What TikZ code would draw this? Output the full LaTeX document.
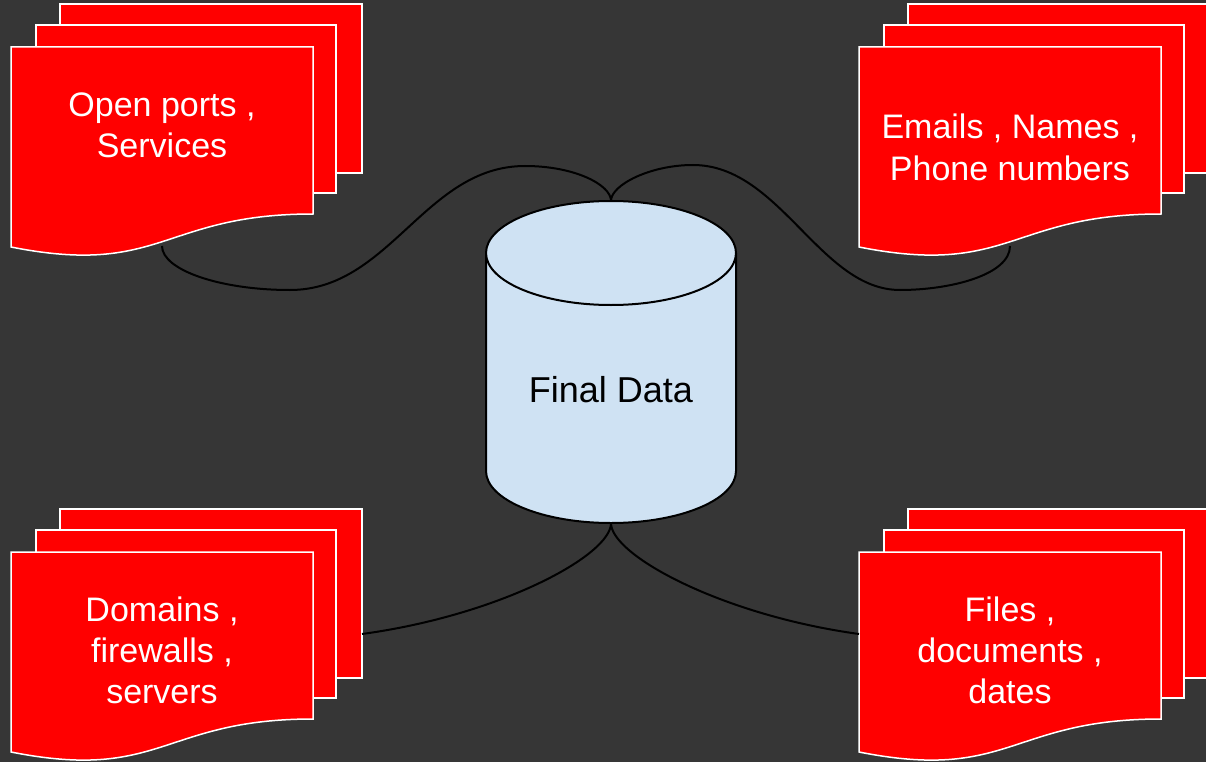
\documentclass[tikz,border=0pt]{standalone}
\usepackage{fontspec}
\setmainfont{Liberation Sans}
\definecolor{bgcol}{HTML}{363636}
\definecolor{dbfill}{HTML}{CFE2F3}
\newcommand\multidocshape[2]{%
  \begin{scope}[shift={(#1,#2)}]
    \path[sheet] (60,4) rectangle (362,173);
    \path[sheet] (36,25) rectangle (336,193);
    \path[sheet] (11,47) -- (313,47) -- (313,214) .. controls (162,214) and (162,277) .. (11,247) -- cycle;
  \end{scope}}
\begin{document}
\begin{tikzpicture}[x=1pt,y=-1pt,
  sheet/.style={fill=red, draw=white, line width=1.5pt},
  doctext/.style={text=white, font=\fontsize{34}{41}\selectfont, align=center, anchor=base, inner sep=0pt},
  dblabel/.style={text=black, font=\fontsize{36}{43}\selectfont, inner sep=0pt},
  link/.style={draw=black, line width=2pt},
  dbbody/.style={fill=dbfill},
  dbline/.style={draw=black, line width=2pt}]
\useasboundingbox (0,0) rectangle (1206,762);
\fill[bgcol] (0,0) rectangle (1206,762);
\begin{scope}
  \clip (0,0) rectangle (1206,762);
  \multidocshape{0}{0}
  \multidocshape{848}{0}
  \multidocshape{0}{505}
  \multidocshape{848}{505}
\end{scope}
% document texts (base = baseline of the last line)
\node[doctext] (tl) at (162,158) {Open ports ,\\Services};
\node[doctext] (tr) at (1010,180) {Emails , Names ,\\Phone numbers};
\node[doctext] (bl) at (162,703.5) {Domains ,\\firewalls ,\\servers};
\node[doctext] (br) at (1010,703.5) {Files ,\\documents ,\\dates};
% connection points on the documents
\coordinate (tl-out) at (162,246);
\coordinate (tr-out) at (1010,246);
\coordinate (bl-in) at (362,634);
\coordinate (br-in) at (859,634);
% database cylinder
\node[minimum width=250pt, minimum height=322pt, inner sep=0pt] (db) at (611,362) {};
\fill[dbbody] (486,253) -- (486,471) .. controls (486,499.7) and (541.96,523) .. (611,523)
   .. controls (680.04,523) and (736,499.7) .. (736,471) -- (736,253) -- cycle;
\draw[dbline] (486,253) -- (486,471) .. controls (486,499.7) and (541.96,523) .. (611,523)
   .. controls (680.04,523) and (736,499.7) .. (736,471) -- (736,253);
\filldraw[dbbody, dbline] (611,253) ellipse [x radius=125, y radius=52];
\node[dblabel] (dblab) at (611,390) {Final Data};
% connectors
\draw[link] (tl-out) .. controls (162,270) and (220,290) .. (290,290)
   .. controls (390,290) and (425,166) .. (525,166)
   .. controls (575,166) and (611,185) .. (db.north);
\draw[link] (tr-out) .. controls (1010,275) and (950,290) .. (900,290)
   .. controls (820,290) and (780,165) .. (693,165)
   .. controls (650,165) and (611,185) .. (db.north);
\draw[link] (db.south) .. controls (611,555) and (501,615) .. (bl-in);
\draw[link] (db.south) .. controls (611,555) and (721,615) .. (br-in);
\end{tikzpicture}
\end{document}
